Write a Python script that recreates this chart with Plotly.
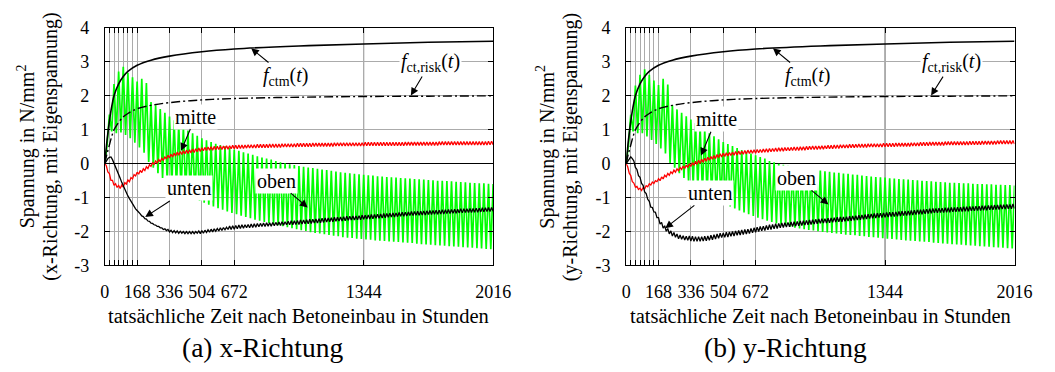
import numpy as np
import plotly.graph_objects as go

# ---------------------------------------------------------------------------
# Time axis (hours after concrete placement)
# ---------------------------------------------------------------------------
T_END = 2016
tick_hours = [0, 168, 336, 504, 672, 1344, 2016]
tick_text = ["0", "168", "336", "504", "672", "1344", "2016"]
day_hours = [24, 48, 72, 96, 120, 144]      # daily lines during the first week
y_ticks = [-3, -2, -1, 0, 1, 2, 3, 4]
y_text = ["-3", "-2", "-1", "0", "1", "2", "3", "4"]

# Strength curves (same for both directions)
t_strength = [0, 12, 24, 36, 48, 72, 96, 120, 168, 240, 336, 504, 672, 1008, 1344, 1680, 2016]
f_ctm = [0, 0.70, 1.25, 1.68, 2.00, 2.35, 2.57, 2.72, 2.90, 3.05, 3.17, 3.30, 3.38, 3.47, 3.53, 3.58, 3.61]
f_ct_risk = [0, 0.30, 0.55, 0.80, 1.00, 1.22, 1.38, 1.48, 1.62, 1.72, 1.80, 1.88, 1.92, 1.96, 1.98, 1.99, 2.00]

# "oben": daily maxima (end of day 1..84) and minima (mid-day 0..83)
oben_x_max = [
    1.45, 2.35, 2.72, 2.86, 2.68, 2.55, 2.42, 2.50, 2.38, 1.82,
    1.72, 1.61, 1.50, 1.39, 1.28, 1.18, 1.08, 0.98, 0.90, 0.82,
    0.75, 0.69, 0.64, 0.59, 0.55, 0.51, 0.47, 0.42, 0.38, 0.34,
    0.30, 0.26, 0.22, 0.18, 0.15, 0.12, 0.08, 0.04, 0.01, -0.02,
    -0.04, -0.07, -0.09, -0.11, -0.13, -0.15, -0.17, -0.19, -0.21, -0.23,
    -0.25, -0.27, -0.28, -0.30, -0.31, -0.33, -0.34, -0.35, -0.37, -0.38,
    -0.39, -0.40, -0.41, -0.42, -0.43, -0.44, -0.45, -0.46, -0.47, -0.48,
    -0.49, -0.50, -0.50, -0.51, -0.52, -0.53, -0.54, -0.55, -0.56, -0.57,
    -0.58, -0.58, -0.59, -0.60]
oben_x_min = [
    0.55, 0.95, 0.90, 0.92, 0.85, 0.75, 0.62, 0.48, 0.32, 0.05,
    -0.12, -0.28, -0.42, -0.54, -0.65, -0.74, -0.83, -0.90, -0.97, -1.03,
    -1.09, -1.15, -1.21, -1.26, -1.31, -1.36, -1.41, -1.45, -1.49, -1.53,
    -1.57, -1.61, -1.65, -1.68, -1.72, -1.75, -1.78, -1.81, -1.84, -1.87,
    -1.90, -1.93, -1.96, -1.98, -2.02, -2.04, -2.06, -2.08, -2.10, -2.12,
    -2.14, -2.17, -2.18, -2.19, -2.21, -2.22, -2.23, -2.24, -2.26, -2.27,
    -2.28, -2.29, -2.30, -2.31, -2.32, -2.33, -2.34, -2.36, -2.37, -2.38,
    -2.39, -2.40, -2.41, -2.42, -2.43, -2.44, -2.45, -2.46, -2.47, -2.48,
    -2.49, -2.50, -2.51, -2.52]
oben_y_max = [
    1.45, 2.30, 2.62, 2.78, 2.62, 2.45, 2.32, 2.50, 2.33, 1.72,
    1.60, 1.50, 1.40, 1.30, 1.20, 1.10, 1.00, 0.90, 0.81, 0.72,
    0.64, 0.58, 0.52, 0.46, 0.40, 0.35, 0.30, 0.25, 0.20, 0.15,
    0.08, 0.04, 0.00, -0.03, -0.06, -0.08, -0.10, -0.12, -0.14, -0.16,
    -0.18, -0.20, -0.22, -0.24, -0.26, -0.27, -0.29, -0.30, -0.32, -0.33,
    -0.35, -0.36, -0.38, -0.39, -0.40, -0.41, -0.43, -0.44, -0.45, -0.46,
    -0.47, -0.48, -0.49, -0.50, -0.51, -0.52, -0.53, -0.54, -0.55, -0.56,
    -0.56, -0.57, -0.58, -0.58, -0.59, -0.60, -0.60, -0.61, -0.61, -0.62,
    -0.62, -0.63, -0.63, -0.64]
oben_y_min = [
    0.55, 0.95, 0.90, 0.90, 0.80, 0.70, 0.58, 0.45, 0.30, 0.02,
    -0.12, -0.28, -0.42, -0.54, -0.65, -0.75, -0.84, -0.92, -0.99, -1.06,
    -1.13, -1.20, -1.26, -1.32, -1.38, -1.44, -1.49, -1.54, -1.59, -1.64,
    -1.68, -1.72, -1.76, -1.80, -1.83, -1.86, -1.89, -1.91, -1.93, -1.95,
    -1.97, -1.99, -2.01, -2.03, -2.04, -2.06, -2.07, -2.09, -2.10, -2.11,
    -2.13, -2.14, -2.16, -2.17, -2.18, -2.20, -2.21, -2.22, -2.23, -2.25,
    -2.26, -2.27, -2.28, -2.29, -2.30, -2.31, -2.33, -2.34, -2.35, -2.36,
    -2.37, -2.38, -2.39, -2.40, -2.41, -2.42, -2.43, -2.44, -2.45, -2.46,
    -2.47, -2.48, -2.49, -2.50]

# "mitte" / "unten": stress values every 8 hours (t = 0, 8, ..., 2016)
mitte_x = [0,
    -0.06, -0.24, -0.29, -0.49, -0.49, -0.64, -0.59, -0.70, -0.64, -0.73,
    -0.63, -0.69, -0.56, -0.60, -0.48, -0.53, -0.41, -0.45, -0.32, -0.36,
    -0.25, -0.31, -0.20, -0.26, -0.15, -0.20, -0.09, -0.14, -0.03, -0.08,
    0.03, -0.02, 0.08, 0.02, 0.12, 0.06, 0.16, 0.10, 0.20, 0.14,
    0.25, 0.17, 0.28, 0.20, 0.31, 0.23, 0.34, 0.25, 0.36, 0.27,
    0.38, 0.29, 0.40, 0.30, 0.41, 0.32, 0.43, 0.33, 0.44, 0.35,
    0.46, 0.36, 0.47, 0.38, 0.48, 0.39, 0.49, 0.40, 0.50, 0.40,
    0.51, 0.41, 0.51, 0.42, 0.52, 0.42, 0.52, 0.43, 0.53, 0.43,
    0.53, 0.44, 0.54, 0.44, 0.54, 0.44, 0.55, 0.45, 0.55, 0.45,
    0.55, 0.46, 0.56, 0.46, 0.56, 0.46, 0.56, 0.46, 0.57, 0.47,
    0.57, 0.47, 0.57, 0.47, 0.57, 0.47, 0.58, 0.48, 0.58, 0.48,
    0.58, 0.48, 0.58, 0.48, 0.59, 0.49, 0.59, 0.49, 0.59, 0.49,
    0.59, 0.49, 0.59, 0.49, 0.60, 0.50, 0.60, 0.50, 0.60, 0.50,
    0.60, 0.50, 0.60, 0.50, 0.61, 0.51, 0.61, 0.51, 0.61, 0.51,
    0.61, 0.51, 0.61, 0.51, 0.61, 0.51, 0.61, 0.51, 0.62, 0.52,
    0.62, 0.52, 0.62, 0.52, 0.62, 0.52, 0.62, 0.52, 0.62, 0.52,
    0.62, 0.52, 0.62, 0.52, 0.62, 0.52, 0.62, 0.52, 0.63, 0.53,
    0.63, 0.53, 0.63, 0.53, 0.63, 0.53, 0.63, 0.53, 0.63, 0.53,
    0.63, 0.53, 0.63, 0.53, 0.63, 0.53, 0.63, 0.53, 0.63, 0.53,
    0.63, 0.53, 0.63, 0.53, 0.64, 0.54, 0.64, 0.54, 0.64, 0.54,
    0.64, 0.54, 0.64, 0.54, 0.64, 0.54, 0.64, 0.54, 0.64, 0.54,
    0.64, 0.54, 0.64, 0.54, 0.64, 0.54, 0.65, 0.55, 0.65, 0.55,
    0.65, 0.55, 0.65, 0.55, 0.65, 0.55, 0.65, 0.55, 0.65, 0.55,
    0.65, 0.55, 0.65, 0.55, 0.65, 0.55, 0.65, 0.55, 0.65, 0.55,
    0.65, 0.55, 0.65, 0.55, 0.65, 0.55, 0.65, 0.55, 0.66, 0.56,
    0.66, 0.56]
unten_x = [0,
    0.08, 0.15, 0.19, 0.20, 0.12, 0.02, -0.08, -0.20, -0.32, -0.43,
    -0.55, -0.66, -0.77, -0.86, -0.95, -1.03, -1.11, -1.19, -1.26, -1.33,
    -1.38, -1.45, -1.48, -1.54, -1.56, -1.62, -1.63, -1.69, -1.70, -1.75,
    -1.76, -1.80, -1.81, -1.85, -1.85, -1.89, -1.89, -1.94, -1.92, -1.97,
    -1.94, -2.01, -1.96, -2.03, -1.97, -2.04, -1.98, -2.05, -1.99, -2.05,
    -2.00, -2.06, -2.00, -2.06, -2.00, -2.06, -2.00, -2.06, -2.00, -2.05,
    -1.98, -2.06, -1.97, -2.05, -1.96, -2.03, -1.95, -2.02, -1.93, -2.01,
    -1.92, -1.99, -1.91, -1.98, -1.89, -1.97, -1.88, -1.95, -1.87, -1.94,
    -1.84, -1.94, -1.83, -1.93, -1.82, -1.92, -1.81, -1.91, -1.80, -1.90,
    -1.80, -1.89, -1.79, -1.89, -1.78, -1.88, -1.77, -1.87, -1.76, -1.86,
    -1.76, -1.85, -1.75, -1.85, -1.74, -1.84, -1.74, -1.84, -1.73, -1.83,
    -1.73, -1.82, -1.72, -1.82, -1.71, -1.81, -1.71, -1.80, -1.70, -1.80,
    -1.68, -1.80, -1.68, -1.79, -1.67, -1.79, -1.66, -1.78, -1.66, -1.77,
    -1.65, -1.77, -1.64, -1.76, -1.64, -1.75, -1.63, -1.75, -1.62, -1.74,
    -1.61, -1.73, -1.60, -1.72, -1.60, -1.71, -1.59, -1.71, -1.58, -1.70,
    -1.58, -1.69, -1.57, -1.69, -1.56, -1.68, -1.55, -1.67, -1.55, -1.66,
    -1.54, -1.66, -1.54, -1.65, -1.53, -1.65, -1.52, -1.64, -1.52, -1.63,
    -1.51, -1.63, -1.50, -1.62, -1.50, -1.61, -1.49, -1.61, -1.48, -1.60,
    -1.47, -1.59, -1.47, -1.58, -1.46, -1.57, -1.45, -1.57, -1.45, -1.56,
    -1.44, -1.55, -1.43, -1.55, -1.43, -1.54, -1.42, -1.53, -1.41, -1.53,
    -1.41, -1.52, -1.40, -1.52, -1.40, -1.51, -1.39, -1.51, -1.39, -1.50,
    -1.38, -1.50, -1.38, -1.49, -1.37, -1.49, -1.37, -1.48, -1.36, -1.48,
    -1.36, -1.47, -1.35, -1.47, -1.35, -1.46, -1.34, -1.46, -1.34, -1.45,
    -1.33, -1.45, -1.33, -1.44, -1.33, -1.44, -1.32, -1.44, -1.32, -1.43,
    -1.31, -1.43, -1.31, -1.42, -1.30, -1.42, -1.30, -1.41, -1.29, -1.41,
    -1.29, -1.40]
mitte_y = [0,
    -0.09, -0.28, -0.35, -0.53, -0.57, -0.69, -0.67, -0.76, -0.72, -0.79,
    -0.71, -0.74, -0.65, -0.68, -0.59, -0.63, -0.54, -0.58, -0.50, -0.53,
    -0.44, -0.50, -0.39, -0.45, -0.34, -0.39, -0.29, -0.34, -0.24, -0.29,
    -0.19, -0.25, -0.15, -0.21, -0.11, -0.17, -0.07, -0.14, -0.04, -0.11,
    0.00, -0.08, 0.03, -0.05, 0.07, -0.02, 0.10, 0.01, 0.13, 0.04,
    0.16, 0.07, 0.19, 0.10, 0.21, 0.13, 0.24, 0.15, 0.27, 0.18,
    0.29, 0.20, 0.31, 0.21, 0.32, 0.23, 0.33, 0.24, 0.34, 0.25,
    0.36, 0.26, 0.37, 0.27, 0.37, 0.28, 0.39, 0.29, 0.40, 0.30,
    0.40, 0.31, 0.41, 0.31, 0.42, 0.32, 0.42, 0.33, 0.43, 0.34,
    0.44, 0.34, 0.45, 0.35, 0.45, 0.36, 0.46, 0.36, 0.47, 0.37,
    0.47, 0.37, 0.48, 0.38, 0.48, 0.38, 0.48, 0.39, 0.49, 0.39,
    0.49, 0.39, 0.50, 0.40, 0.50, 0.40, 0.51, 0.41, 0.51, 0.42,
    0.52, 0.42, 0.52, 0.42, 0.52, 0.43, 0.53, 0.43, 0.53, 0.44,
    0.54, 0.44, 0.54, 0.44, 0.55, 0.45, 0.55, 0.45, 0.56, 0.46,
    0.56, 0.46, 0.56, 0.46, 0.57, 0.47, 0.57, 0.47, 0.57, 0.48,
    0.58, 0.48, 0.58, 0.48, 0.58, 0.48, 0.59, 0.49, 0.59, 0.49,
    0.59, 0.49, 0.59, 0.49, 0.59, 0.49, 0.60, 0.50, 0.60, 0.50,
    0.60, 0.50, 0.60, 0.50, 0.61, 0.51, 0.61, 0.51, 0.61, 0.51,
    0.61, 0.51, 0.61, 0.51, 0.62, 0.52, 0.62, 0.52, 0.62, 0.52,
    0.63, 0.53, 0.63, 0.53, 0.63, 0.53, 0.64, 0.54, 0.64, 0.54,
    0.64, 0.54, 0.64, 0.54, 0.64, 0.54, 0.65, 0.55, 0.65, 0.55,
    0.65, 0.55, 0.65, 0.55, 0.65, 0.55, 0.65, 0.55, 0.65, 0.55,
    0.65, 0.55, 0.66, 0.56, 0.66, 0.56, 0.66, 0.56, 0.66, 0.56,
    0.67, 0.57, 0.67, 0.57, 0.67, 0.57, 0.67, 0.57, 0.67, 0.57,
    0.68, 0.58, 0.68, 0.58, 0.68, 0.58, 0.68, 0.58, 0.68, 0.58,
    0.68, 0.58]
unten_y = [0,
    0.08, 0.16, 0.20, 0.15, 0.08, -0.11, -0.17, -0.35, -0.40, -0.58,
    -0.64, -0.83, -0.88, -1.05, -1.11, -1.28, -1.29, -1.42, -1.43, -1.59,
    -1.59, -1.78, -1.73, -1.90, -1.83, -1.99, -1.91, -2.07, -1.98, -2.13,
    -2.03, -2.17, -2.07, -2.21, -2.10, -2.23, -2.12, -2.25, -2.14, -2.26,
    -2.13, -2.28, -2.14, -2.29, -2.15, -2.29, -2.15, -2.29, -2.15, -2.28,
    -2.14, -2.27, -2.13, -2.26, -2.11, -2.24, -2.09, -2.22, -2.07, -2.20,
    -2.05, -2.18, -2.04, -2.17, -2.02, -2.16, -2.01, -2.14, -2.00, -2.13,
    -1.98, -2.11, -1.97, -2.10, -1.95, -2.09, -1.94, -2.07, -1.93, -2.06,
    -1.91, -2.04, -1.89, -2.02, -1.87, -2.00, -1.85, -1.98, -1.84, -1.97,
    -1.82, -1.95, -1.80, -1.94, -1.79, -1.92, -1.77, -1.91, -1.76, -1.89,
    -1.75, -1.88, -1.74, -1.87, -1.73, -1.86, -1.72, -1.85, -1.71, -1.84,
    -1.70, -1.83, -1.69, -1.82, -1.68, -1.81, -1.67, -1.80, -1.66, -1.79,
    -1.65, -1.78, -1.64, -1.77, -1.63, -1.76, -1.62, -1.75, -1.62, -1.75,
    -1.61, -1.74, -1.60, -1.73, -1.59, -1.72, -1.58, -1.71, -1.57, -1.71,
    -1.57, -1.70, -1.56, -1.69, -1.55, -1.68, -1.54, -1.67, -1.53, -1.66,
    -1.52, -1.65, -1.51, -1.64, -1.50, -1.63, -1.49, -1.62, -1.48, -1.61,
    -1.47, -1.60, -1.46, -1.59, -1.46, -1.59, -1.45, -1.58, -1.44, -1.57,
    -1.43, -1.56, -1.43, -1.56, -1.42, -1.55, -1.41, -1.54, -1.40, -1.53,
    -1.40, -1.53, -1.39, -1.52, -1.38, -1.51, -1.37, -1.50, -1.36, -1.49,
    -1.36, -1.49, -1.35, -1.48, -1.34, -1.47, -1.33, -1.46, -1.32, -1.45,
    -1.32, -1.45, -1.31, -1.44, -1.31, -1.44, -1.30, -1.43, -1.30, -1.43,
    -1.29, -1.42, -1.29, -1.42, -1.28, -1.41, -1.28, -1.41, -1.27, -1.40,
    -1.27, -1.40, -1.26, -1.39, -1.26, -1.39, -1.25, -1.38, -1.25, -1.38,
    -1.24, -1.37, -1.24, -1.37, -1.23, -1.36, -1.23, -1.36, -1.22, -1.35,
    -1.22, -1.35, -1.21, -1.34, -1.21, -1.34, -1.20, -1.33, -1.20, -1.33,
    -1.19, -1.32]

STEP_8H = 8
STEP_12H = 12
t_8h = np.arange(0, T_END + 1, STEP_8H)
t_12h = np.arange(0, T_END + 1, STEP_12H)


def daily_cycle(day_max, day_min):
    """Interleave the mid-day minima and end-of-day maxima, starting from 0."""
    vals = [0.0]
    for lo, hi in zip(day_min, day_max):
        vals += [lo, hi]
    return vals


FONT = "Liberation Serif, Times New Roman, DejaVu Serif, serif"
GREEN = "#00ff00"
RED = "#ff0000"
GRID = "#ababab"

fig = go.Figure()

panels = [
    dict(x="x", y="y", oben=(oben_x_max, oben_x_min), mitte=mitte_x, unten=unten_x),
    dict(x="x2", y="y2", oben=(oben_y_max, oben_y_min), mitte=mitte_y, unten=unten_y),
]

for p in panels:
    ax = dict(xaxis=p["x"], yaxis=p["y"], showlegend=False, hoverinfo="skip")
    fig.add_trace(go.Scatter(x=t_12h, y=daily_cycle(*p["oben"]), mode="lines",
                             line=dict(color=GREEN, width=1.7), **ax))
    fig.add_trace(go.Scatter(x=t_8h, y=p["mitte"], mode="lines",
                             line=dict(color=RED, width=1.3), **ax))
    fig.add_trace(go.Scatter(x=t_8h, y=p["unten"], mode="lines",
                             line=dict(color="black", width=1.3), **ax))
    fig.add_trace(go.Scatter(x=t_strength, y=f_ctm, mode="lines",
                             line=dict(color="black", width=1.6, shape="spline"), **ax))
    fig.add_trace(go.Scatter(x=t_strength, y=f_ct_risk, mode="lines",
                             line=dict(color="black", width=1.4, shape="spline",
                                       dash="9px,3px,2px,3px"), **ax))

# ---------------------------------------------------------------------------
# Axes
# ---------------------------------------------------------------------------
W, H = 1055, 372
PLOT_TOP, PLOT_BOTTOM = 19, 270
PANEL_X = [(102, 499), (635, 1032)]
TICK_FONT = dict(family=FONT, size=18, color="black")


def xaxis_cfg(domain, anchor):
    return dict(domain=domain, anchor=anchor, range=[0, T_END],
                tickmode="array", tickvals=tick_hours, ticktext=tick_text,
                ticks="inside", ticklen=5, tickcolor="black", tickwidth=1,
                minor=dict(tickmode="array", tickvals=day_hours, ticks="inside", ticklen=5,
                           tickcolor="black", tickwidth=1, showgrid=True,
                           gridcolor=GRID, gridwidth=1),
                showgrid=True, gridcolor=GRID, gridwidth=1,
                showline=True, linecolor="black", linewidth=1, mirror="ticks",
                zeroline=False, tickfont=TICK_FONT, ticklabelstandoff=10,
                fixedrange=True)


def yaxis_cfg(anchor):
    return dict(domain=[1 - PLOT_BOTTOM / H, 1 - PLOT_TOP / H], range=[-3, 4],
                anchor=anchor, tickmode="array", tickvals=y_ticks, ticktext=y_text,
                ticks="inside", ticklen=5, tickcolor="black", tickwidth=1,
                showgrid=True, gridcolor=GRID, gridwidth=1,
                showline=True, linecolor="black", linewidth=1, mirror="ticks",
                zeroline=True, zerolinecolor="black", zerolinewidth=1,
                tickfont=TICK_FONT, ticklabelstandoff=11, fixedrange=True)


fig.update_layout(
    width=W, height=H, autosize=False,
    margin=dict(l=0, r=0, t=0, b=0),
    paper_bgcolor="white", plot_bgcolor="white",
    font=dict(family=FONT, color="black"),
    xaxis=xaxis_cfg([PANEL_X[0][0] / W, PANEL_X[0][1] / W], "y"),
    yaxis=yaxis_cfg("x"),
    xaxis2=xaxis_cfg([PANEL_X[1][0] / W, PANEL_X[1][1] / W], "y2"),
    yaxis2=yaxis_cfg("x2"),
)

# darker grid line at 1344 h
for xr, yr in (("x", "y"), ("x2", "y2")):
    fig.add_shape(type="line", xref=xr, yref=yr, x0=tick_hours[-2], x1=tick_hours[-2],
                  y0=y_ticks[0], y1=y_ticks[-1], line=dict(color="#5a5a5a", width=1),
                  layer="below")

# ---------------------------------------------------------------------------
# Curve labels with arrows
# ---------------------------------------------------------------------------
labels = [
    # text, arrow head (t, sigma), text centre (t, sigma)
    ("<i>f</i><sub>ctm</sub>(<i>t</i>)", (760, 3.40), (939, 2.57)),
    ("<i>f</i><sub>ct,risk</sub>(<i>t</i>)", (1589, 2.01), (1691, 2.98)),
    ("mitte", (396, 0.38), (472, 1.39)),
    ("unten", (210, -1.57), (437, -0.73)),
    ("oben", (1053, -1.29), (889, -0.50)),
]
labels_y = [
    ("<i>f</i><sub>ctm</sub>(<i>t</i>)", (762, 3.40), (939, 2.57)),
    ("<i>f</i><sub>ct,risk</sub>(<i>t</i>)", (1583, 2.01), (1691, 2.98)),
    ("mitte", (389, 0.24), (467, 1.31)),
    ("unten", (203, -1.90), (437, -0.86)),
    ("oben", (1050, -1.20), (884, -0.42)),
]
for (xr, yr), lab in ((("x", "y"), labels), (("x2", "y2"), labels_y)):
    for text, head, tail in lab:
        fig.add_annotation(text=text, x=head[0], y=head[1], ax=tail[0], ay=tail[1],
                           xref=xr, yref=yr, axref=xr, ayref=yr,
                           showarrow=True, arrowhead=2, arrowsize=1.4, arrowwidth=1.1,
                           arrowcolor="black", bgcolor="white", borderpad=1,
                           font=dict(family=FONT, size=20, color="black"))

# ---------------------------------------------------------------------------
# Axis titles and sub-captions
# ---------------------------------------------------------------------------
x_title = "tatsächliche Zeit nach Betoneinbau in Stunden"
captions = ["(a) x-Richtung", "(b) y-Richtung"]
y_title_1 = "Spannung in N/mm<sup>2</sup>"
y_title_2 = ["(x-Richtung, mit Eigenspannung)", "(y-Richtung, mit Eigenspannung)"]
y_title_pos = [(22, 47), (553, 578)]
caption_x = [263, 798]

for i, (x0, x1) in enumerate(PANEL_X):
    fig.add_annotation(text=x_title, xref="paper", yref="paper",
                       x=(x0 + x1) / 2 / W, y=1 - 323 / H, showarrow=False,
                       xanchor="center", yanchor="middle",
                       font=dict(family=FONT, size=20.5, color="black"))
    fig.add_annotation(text=captions[i], xref="paper", yref="paper",
                       x=caption_x[i] / W, y=1 - 357 / H, showarrow=False,
                       xanchor="center", yanchor="middle",
                       font=dict(family=FONT, size=27.5, color="black"))
    ymid = 1 - (PLOT_TOP + PLOT_BOTTOM) / 2 / H
    fig.add_annotation(text=y_title_1, xref="paper", yref="paper",
                       x=y_title_pos[i][0] / W, y=ymid, showarrow=False, textangle=-90,
                       xanchor="center", yanchor="middle",
                       font=dict(family=FONT, size=20, color="black"))
    fig.add_annotation(text=y_title_2[i], xref="paper", yref="paper",
                       x=y_title_pos[i][1] / W, y=ymid, showarrow=False, textangle=-90,
                       xanchor="center", yanchor="middle",
                       font=dict(family=FONT, size=20, color="black"))

fig.write_html("out.html", config=dict(displayModeBar=False))
